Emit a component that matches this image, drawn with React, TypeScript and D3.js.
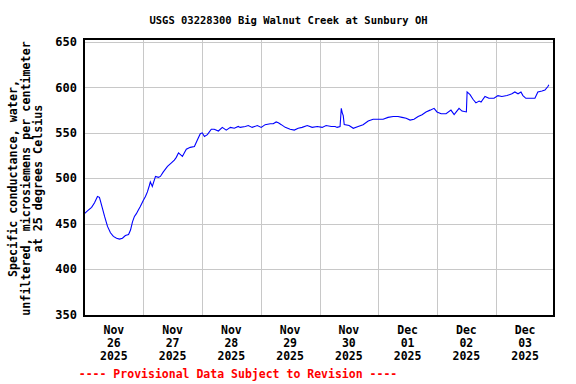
import * as d3 from "d3";
import { useEffect, useRef } from "react";

// hours since 2025-11-26 00:00 and specific conductance (uS/cm at 25 C)
const hours = [
  0, 1.2, 2.9, 4.1, 5.3, 6.1, 6.5, 7.3, 8.2, 9.4, 10.6, 11.8, 13.1, 14.3, 15.5,
  16.7, 18.0, 18.8, 19.6, 20.4, 21.2, 22.0, 22.8, 24.1, 24.9, 25.7, 26.5, 26.9,
  27.7, 29.0, 30.2, 31.0, 32.2, 33.9, 35.5, 36.7, 37.5, 38.4, 39.2, 40.0, 40.8,
  41.6, 43.2, 44.9, 46.1, 47.3, 48.1, 49.0, 50.2, 51.8, 53.0, 54.7, 56.3, 57.9,
  59.6, 61.2, 62.8, 63.6, 65.7, 66.9, 68.5, 70.6, 72.2, 73.8, 75.9, 77.1, 78.3,
  79.2, 80.4, 82.0, 84.0, 85.7, 87.3, 88.9, 91.0, 93.0, 95.1, 97.1, 98.7, 100.8,
  102.4, 103.2, 104.4, 104.9, 105.3, 105.7, 106.1, 108.1, 109.8, 111.8, 113.8,
  115.9, 117.9, 120.0, 122.0, 124.0, 126.1, 128.1, 129.7, 131.4, 133.0, 134.6,
  136.3, 137.9, 139.5, 141.2, 142.8, 144.0, 145.7, 147.7, 149.7, 151.0, 153.0,
  154.2, 156.0, 156.3, 157.5, 158.7, 159.9, 161.2, 162.0, 163.6, 165.2, 167.3,
  168.9, 170.5, 172.6, 174.6, 175.8, 177.1, 178.3, 179.1, 180.3, 184.0, 185.2,
  186.9, 188.1, 189.3, 189.7,
];
const conductance = [
  461, 464, 468, 473, 480, 479, 475, 467, 458, 447, 440, 436, 434, 433, 434,
  437, 438, 443, 452, 458, 461, 465, 469, 476, 480, 485, 492, 496,
  491, 502, 501, 502, 507, 513, 517, 520, 523, 528, 526, 524, 528,
  532, 534, 535, 542, 549, 550, 546, 548, 554, 554, 552, 556, 553,
  556, 555, 557, 556, 557, 558, 556, 558, 556, 559, 560, 560, 562,
  561, 559, 556, 554, 553, 555, 556, 558, 556, 557, 556, 558, 557,
  557, 556, 557, 577, 572, 569, 559, 558, 555, 557, 559,
  563, 565, 565, 565, 567, 568, 568, 567, 566, 564, 565,
  568, 570, 573, 575, 577, 573, 571, 571, 575, 570, 577,
  574, 573, 595, 592, 587, 583, 585, 584, 590, 588, 588,
  591, 590, 591, 593, 595, 593, 595, 591, 588, 588, 595,
  596, 597, 601, 603,
];
const yTicks = [350, 400, 450, 500, 550, 600, 650];
const yLabelLines = [
  "Specific conductance, water,",
  "unfiltered, microsiemens per centimeter",
  "at 25 degrees Celsius",
];

export default function App() {
  const svgRef = useRef<SVGSVGElement | null>(null);

  useEffect(() => {
    const width = 576;
    const height = 384;
    const left = 84;
    const right = 554;
    const top = 39;
    const bottom = 316;
    const font = "'DejaVu Sans Mono', monospace";

    const svg = d3.select(svgRef.current);
    svg.selectAll("*").remove();
    svg.attr("width", width).attr("height", height);

    svg.append("rect").attr("width", width).attr("height", height).attr("fill", "#fff");

    const start = new Date(Date.UTC(2025, 10, 26));
    const end = new Date(Date.UTC(2025, 11, 4));
    const x = d3.scaleUtc().domain([start, end]).range([left + 0.5, right + 0.5]);
    const y = d3.scaleLinear().domain([350, 650]).range([314.5, 42]);

    const days = d3.utcDay.range(start, end);

    // grid
    svg
      .append("g")
      .selectAll("line")
      .data(yTicks)
      .join("line")
      .attr("x1", left)
      .attr("x2", right)
      .attr("y1", (d) => Math.round(y(d)) + 0.5)
      .attr("y2", (d) => Math.round(y(d)) + 0.5)
      .attr("stroke", "#c8c8c8");

    svg
      .append("g")
      .selectAll("line")
      .data(days.slice(1))
      .join("line")
      .attr("x1", (d) => Math.round(x(d)) + 0.5)
      .attr("x2", (d) => Math.round(x(d)) + 0.5)
      .attr("y1", top)
      .attr("y2", bottom)
      .attr("stroke", "#c8c8c8");

    // data line
    const points = hours.map((h, i) => ({
      t: new Date(start.getTime() + h * 3600e3),
      v: conductance[i],
    }));
    const line = d3
      .line<{ t: Date; v: number }>()
      .x((d) => x(d.t))
      .y((d) => y(d.v));
    svg
      .append("path")
      .datum(points)
      .attr("fill", "none")
      .attr("stroke", "#0000ff")
      .attr("stroke-width", 1.1)
      .attr("d", line);

    // frame
    svg
      .append("rect")
      .attr("x", left)
      .attr("y", top)
      .attr("width", right - left)
      .attr("height", bottom - top)
      .attr("fill", "none")
      .attr("stroke", "#000")
      .attr("stroke-width", 2);

    // y tick labels
    svg
      .append("g")
      .selectAll("text")
      .data(yTicks)
      .join("text")
      .attr("x", 77)
      .attr("y", (d) => y(d))
      .attr("dy", "0.35em")
      .attr("text-anchor", "end")
      .style("font", `bold 12px ${font}`)
      .text((d) => d);

    // x tick labels, centered on each day
    const fmt = [d3.utcFormat("%b"), d3.utcFormat("%d"), d3.utcFormat("%Y")];
    const xl = svg
      .append("g")
      .selectAll("text")
      .data(days)
      .join("text")
      .attr("text-anchor", "middle")
      .style("font", `bold 11.5px ${font}`);
    fmt.forEach((f, i) => {
      xl.append("tspan")
        .attr("x", (d) => x(d3.utcHour.offset(d, 12)))
        .attr("y", 334 + i * 13)
        .text((d) => f(d));
    });

    // title
    svg
      .append("text")
      .attr("x", 288.5)
      .attr("y", 24)
      .attr("text-anchor", "middle")
      .style("font", `bold 10.5px ${font}`)
      .text("USGS 03228300 Big Walnut Creek at Sunbury OH");

    // y axis label
    svg
      .append("g")
      .attr("transform", `translate(0, ${(top + bottom) / 2 + 1}) rotate(-90)`)
      .selectAll("text")
      .data(yLabelLines)
      .join("text")
      .attr("x", 0)
      .attr("y", (d, i) => 17 + i * 12.5)
      .attr("text-anchor", "middle")
      .style("font", `bold 11.7px ${font}`)
      .text((d) => d);

    // footer
    svg
      .append("text")
      .attr("x", 238)
      .attr("y", 378)
      .attr("text-anchor", "middle")
      .attr("fill", "#ff0000")
      .style("font", `bold 11.5px ${font}`)
      .text("---- Provisional Data Subject to Revision ----");
  }, []);

  return (
    <svg
      ref={svgRef}
      width={576}
      height={384}
      style={{ position: "absolute", left: 0, top: 0, display: "block" }}
    />
  );
}
